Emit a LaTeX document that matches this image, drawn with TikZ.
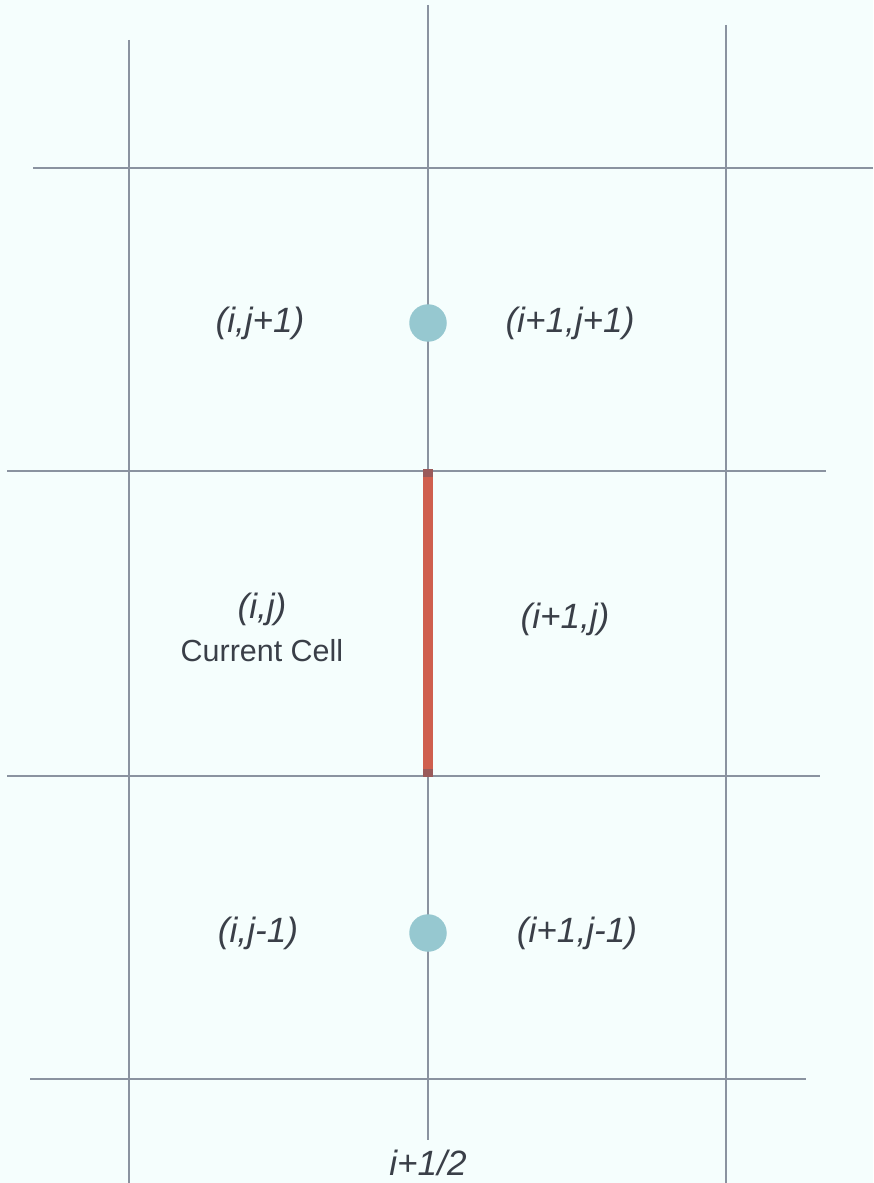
\documentclass[tikz,border=0pt]{standalone}
\usepackage{fontspec}
\setmainfont{Liberation Sans}
\usepackage{xcolor}
\usepackage{tikz}
\usetikzlibrary{positioning, calc}

\definecolor{paper}{HTML}{F5FEFD}
\definecolor{gridgray}{HTML}{8A93A0}
\definecolor{facered}{HTML}{CF5F4E}
\definecolor{facedark}{HTML}{9A5A5A}
\definecolor{nodeblue}{HTML}{96C8D0}
\definecolor{labelgray}{HTML}{3A3F48}

\begin{document}
\begin{tikzpicture}[
        x=0.03cm, y=-0.03cm,
        gridline/.style={draw=gridgray, line width=0.9pt},
        face/.style={draw=facered, line width=8pt},
        flux/.style={circle, fill=nodeblue, minimum size=32, inner sep=0pt},
        cell/.style={text=labelgray, font=\fontsize{30}{36}\selectfont\itshape, inner sep=0pt},
        note/.style={text=labelgray, font=\fontsize{26}{31}\selectfont, inner sep=0pt}
    ]
    % --- Background ---
    \fill[paper] (0,0) rectangle (873,1183);
    \useasboundingbox (0,0) rectangle (873,1183);

    % --- Grid ---
    \draw[gridline] (129,40) -- (129,1183);
    \draw[gridline] (428,5) -- (428,1140);
    \draw[gridline] (726,25) -- (726,1183);
    \draw[gridline] (33,168) -- (873,168);
    \draw[gridline] (7,471) -- (826,471);
    \draw[gridline] (7,776) -- (820,776);
    \draw[gridline] (30,1079) -- (806,1079);

    % --- Face i+1/2 ---
    \coordinate (facetop) at (428,469);
    \coordinate (facebot) at (428,777);
    \draw[face] (facetop) -- (facebot);
    \fill[facedark] ($(facetop)+(-5,0)$) rectangle ($(facetop)+(5,8)$);
    \fill[facedark] ($(facebot)+(-5,-8)$) rectangle ($(facebot)+(5,0)$);

    % --- Flux points ---
    \node[flux] (upper) at (428,323) {};
    \node[flux] (lower) at (428,933) {};

    % --- Cell labels ---
    \node[cell] (ijp) at (260,323) {(i,j+1)};
    \node[cell] (ipjp) at (570,323) {(i+1,j+1)};
    \node[cell] (ij) at (262,609) {(i,j)};
    \node[note, below=12pt of ij] (current) {Current Cell};
    \node[cell] (ipj) at (565,619) {(i+1,j)};
    \node[cell] (ijm) at (258,933) {(i,j-1)};
    \node[cell] (ipjm) at (577,933) {(i+1,j-1)};

    % --- Face label ---
    \node[cell] (half) at (428,1163) {i+1/2};

\end{tikzpicture}
\end{document}
